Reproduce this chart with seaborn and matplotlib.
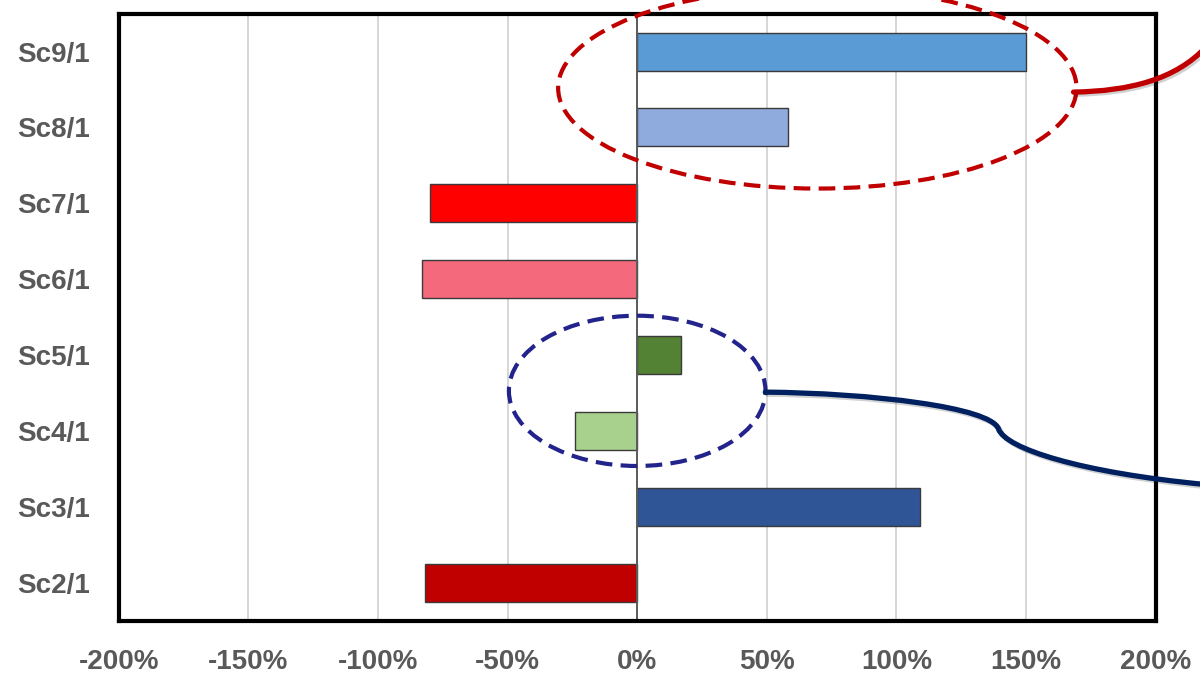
import matplotlib
matplotlib.use("Agg")
import matplotlib.pyplot as plt
import matplotlib.patches as mpatches
from matplotlib.path import Path
import matplotlib.patheffects as pe
import seaborn as sns
import pandas as pd

# Scenario ratios (percent change)
scenarios = ["Sc9/1", "Sc8/1", "Sc7/1", "Sc6/1", "Sc5/1", "Sc4/1", "Sc3/1", "Sc2/1"]
changes = [150, 58, -80, -83, 17, -24, 109, -82]
bar_colors = ["#5B9BD5", "#8FAADC", "#FF0000", "#F4697B",
              "#548235", "#A9D18E", "#2F5597", "#C00000"]
tick_values = [-200, -150, -100, -50, 0, 50, 100, 150, 200]
tick_labels = ["-200%", "-150%", "-100%", "-50%", "0%", "50%", "100%", "150%", "200%"]

sns.set_theme(style="white")
plt.rcParams["font.family"] = ["Liberation Sans", "DejaVu Sans"]

df = pd.DataFrame({"scenario": scenarios, "change": changes})

fig = plt.figure(figsize=(12, 6.8), dpi=100)
ax = fig.add_axes([0.099, 0.087, 0.864, 0.893])

for xv in tick_values:
    if xv != 0:
        ax.axvline(xv, color="#D3D3D3", lw=1.3, zorder=0)

sns.barplot(data=df, x="change", y="scenario", hue="scenario",
            palette=bar_colors, order=scenarios, hue_order=scenarios,
            orient="h", width=0.5, saturation=1, edgecolor="#3A3A3A", linewidth=1.0,
            legend=False, ax=ax, zorder=2)

ax.axvline(0, color="#5A5A5A", lw=1.4, zorder=3)

ax.set_xlim(-200, 200)
ax.set_ylim(7.5, -0.5)
ax.set_xticks(tick_values)
ax.set_xticklabels(tick_labels)
ax.set_xlabel("")
ax.set_ylabel("")
ax.tick_params(axis="x", length=0, pad=20, labelsize=20, labelcolor="#595959")
ax.tick_params(axis="y", length=0, pad=21, labelsize=20, labelcolor="#595959")
for lab in ax.get_xticklabels() + ax.get_yticklabels():
    lab.set_fontweight("bold")

for sp in ax.spines.values():
    sp.set_visible(True)
    sp.set_color("black")
    sp.set_linewidth(3)
    sp.set_zorder(5)

# Call-out ellipses around the highlighted groups
red_ell = mpatches.Ellipse((69.5, 0.48), 200, 2.65, fill=False, edgecolor="#C00000",
                           lw=3.0, ls=(0, (4, 2)), clip_on=False, zorder=6)
blue_ell = mpatches.Ellipse((0, 4.47), 99, 1.98, fill=False, edgecolor="#23238C",
                            lw=3.0, ls=(0, (4, 2)), clip_on=False, zorder=6)
ax.add_patch(red_ell)
ax.add_patch(blue_ell)


def to_data(px, py):
    return ((px - 637) / 2.59, -0.5 + (py - 14) / 76.4)


def curve(points, codes, color):
    verts = [to_data(*p) for p in points]
    patch = mpatches.PathPatch(Path(verts, codes), fill=False, edgecolor=color,
                               lw=3.8, clip_on=False, zorder=6, capstyle="round",
                               path_effects=[pe.SimpleLineShadow(offset=(1.5, -1.5), alpha=0.2),
                                             pe.Normal()])
    ax.add_patch(patch)


C4 = Path.CURVE4
curve([(1073, 93), (1130, 92), (1175, 80), (1205, 48)],
      [Path.MOVETO, C4, C4, C4], "#C00000")
curve([(765, 395), (870, 396), (990, 410), (998, 432),
       (1005, 452), (1080, 476), (1205, 488)],
      [Path.MOVETO, C4, C4, C4, C4, C4, C4], "#002060")

fig.savefig("out.png", dpi=100)
